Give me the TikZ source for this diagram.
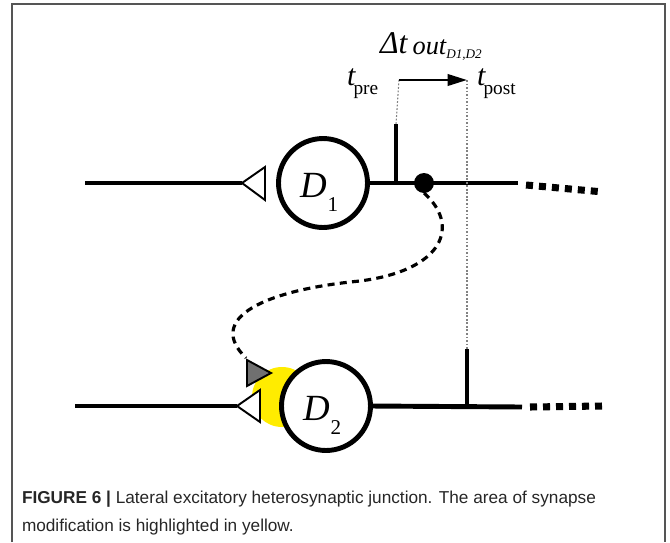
\documentclass[tikz,border=0pt]{standalone}
\usepackage{fontspec}
\setmainfont{Liberation Serif}
\newfontfamily\capfont{Liberation Sans}
\usetikzlibrary{arrows.meta}
\definecolor{framegray}{RGB}{85,85,85}
\definecolor{hilite}{RGB}{255,236,0}
\definecolor{termgray}{RGB}{112,112,112}
\definecolor{guidegray}{RGB}{130,130,130}

\begin{document}
\begin{tikzpicture}[x=0.02cm,y=-0.02cm,every node/.style={inner sep=0pt,outer sep=0pt},
  neuron/.style={draw, circle, line width=2.8pt, fill=white, minimum size=1.78cm},
  wire/.style={line width=2.8pt},
  tail/.style={line width=4pt, dash pattern=on 4pt off 3.4pt},
  tickmark/.style={line width=2.3pt},
  guide/.style={guidegray, line width=0.6pt, dash pattern=on 1pt off 1pt},
  term/.style={line width=1.1pt, line join=miter},
  axon/.style={line width=1.8pt, dash pattern=on 4pt off 3pt}]
\useasboundingbox (0,0) rectangle (670,542);
\draw[framegray, line width=1.2pt] (12,542) -- (12,4) -- (665,4) -- (665,542);

% upper dendrite D1
\fill[hilite] (282,397) ellipse [x radius=30, y radius=30];
\node[neuron] (d1) at (323,183) {};
\node[neuron] (d2) at (326,406) {};
\node[anchor=base west] (d1lab) at (300,197) {\fontsize{21}{21}\selectfont\itshape D\kern0.5pt\raisebox{-8.5pt}{\upshape\fontsize{12}{12}\selectfont 1}};
\node[anchor=base west] (d2lab) at (303,420) {\fontsize{21}{21}\selectfont\itshape D\kern0.5pt\raisebox{-8.5pt}{\upshape\fontsize{12}{12}\selectfont 2}};

\coordinate (in1) at (85,183);
\coordinate (tip1) at (242,183);
\coordinate (in2) at (75,406);
\coordinate (tip2) at (237,406);
\draw[wire] (in1) -- (tip1);
\draw[wire] (in2) -- (tip2);
\draw[term, fill=white] (tip1) -- (265,167) -- (265,200) -- cycle;
\draw[term, fill=white] (tip2) -- (260,390) -- (260,422) -- cycle;
\draw[term, fill=termgray] (247,360) -- (271,373) -- (247,386) -- cycle;
\coordinate (gt) at (246,358);

\coordinate (out1) at (518,183);
\coordinate (out2) at (522,407);
\draw[wire] (d1.east) -- (out1);
\draw[wire] (d2.east) -- (out2);
\draw[tail] (526,185) -- (598,191.5);
\draw[tail] (530,407) -- (602,406);

\coordinate (pre1) at (396,124);
\coordinate (pre0) at (396,183);
\coordinate (post1) at (467,349);
\coordinate (post0) at (467,407);
\draw[tickmark] (pre0) -- (pre1);
\draw[tickmark] (post0) -- (post1);

\node[circle, fill=black, minimum size=0.4cm] (dot) at (424,183) {};
\coordinate (mid) at (360,281);
\draw[axon] (dot.south) .. controls (460,225) and (445,270) .. (mid) .. controls (265,290) and (205,318) .. (gt);

% timing
\coordinate (arrS) at (399,80);
\coordinate (arrE) at (467,80);
\draw[guide] (399,80) -- (pre1);
\draw[guide] (467,80) -- (post1);
\draw[line width=1.4pt, -{Triangle[length=11pt,width=6.5pt]}] (arrS) -- (arrE);
\node[anchor=base west] (tpre) at (347,85) {\fontsize{17}{17}\selectfont\itshape t\kern-1pt\raisebox{-5.5pt}{\upshape\fontsize{11}{11}\selectfont pre}};
\node[anchor=base west] (tpost) at (477,85) {\fontsize{17}{17}\selectfont\itshape t\kern-1pt\raisebox{-5.5pt}{\upshape\fontsize{11}{11}\selectfont post}};
\node[anchor=base west] (dt) at (380,53) {\fontsize{18}{18}\selectfont\itshape Δt\kern3pt\raisebox{-1pt}{\fontsize{15}{15}\selectfont out}\raisebox{-3pt}{\fontsize{7.5}{7.5}\selectfont D1,D2}};

\node[anchor=base west, text=black!85] (cap1) at (22,503) {\capfont\fontsize{9.8}{12}\selectfont\textbf{FIGURE 6 |} Lateral excitatory heterosynaptic junction. The area of synapse};
\node[anchor=base west, text=black!85] (cap2) at (22,531) {\capfont\fontsize{9.8}{12}\selectfont modification is highlighted in yellow.};
\end{tikzpicture}
\end{document}
